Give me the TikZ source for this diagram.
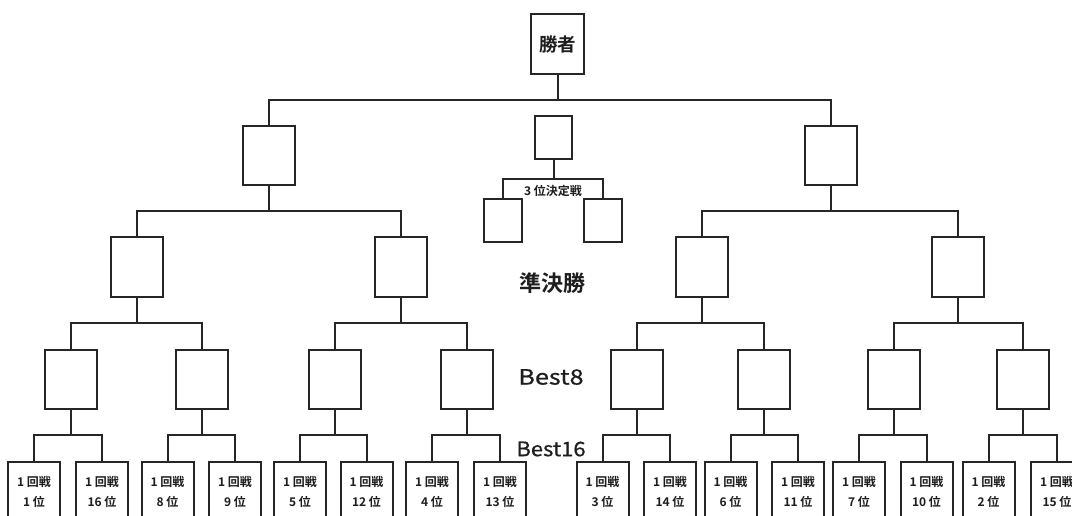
\documentclass[tikz,border=0pt]{standalone}
\usepackage{fontspec}
\setmainfont{Noto Sans CJK JP}[BoldFont={Noto Sans CJK JP Bold}]
\newfontfamily\bestfont{Noto Sans CJK JP}[FakeBold=0.6]
\definecolor{lc}{HTML}{262626}
\definecolor{tc}{HTML}{1E1E1E}
\newcommand\bracketpair[4]{\draw[conn] (#1.south) -- (#1.south |- #4) (#2.north) |- (#3.north |- #4) -- (#3.north);}
\begin{document}
\begin{tikzpicture}[x=1pt,y=-1pt,
  conn/.style={draw=lc,line width=2pt,line join=miter},
  box/.style={draw=lc,line width=2pt,fill=white,minimum width=52pt,minimum height=59pt,inner sep=0pt,text=tc},
  firstbox/.style={box,minimum height=60pt,align=center,font=\bfseries\fontsize{12}{20}\selectfont},
  small/.style={draw=lc,line width=2pt,fill=white,inner sep=0pt,minimum width=37pt,minimum height=43pt},
  lbl/.style={text=tc,inner sep=0pt}]
\fill[white] (0,0) rectangle (1072,516);
\useasboundingbox (0,0) rectangle (1072,516);
% bar levels
\coordinate (b0) at (0,100);
\coordinate (b1) at (0,211);
\coordinate (b2) at (0,323);
\coordinate (b3) at (0,435);
\coordinate (bT) at (0,179);
% winner
\node[box,minimum width=53pt,minimum height=60pt,font=\bfseries\fontsize{18.5}{20}\selectfont] (W) at (557.5,44) {勝者};
% level 1
\node[box] (A) at (269,155.5) {};
\node[box] (B) at (830.5,155.5) {};
% third place
\node[small] (T) at (553.5,138) {};
\node[small,minimum width=38pt] (Ta) at (503,220.5) {};
\node[small,minimum width=38pt] (Tb) at (602.5,220.5) {};
% level 2
\node[box,minimum height=60pt] (A1) at (137,267) {};
\node[box,minimum height=60pt] (A2) at (401,267) {};
\node[box,minimum height=60pt] (B1) at (702,267) {};
\node[box,minimum height=60pt] (B2) at (958,267) {};
% level 3
\node[box] (C1) at (70.5,379.5) {};
\node[box] (C2) at (202,379.5) {};
\node[box] (C3) at (334.5,379.5) {};
\node[box] (C4) at (466.5,379.5) {};
\node[box] (C5) at (637,379.5) {};
\node[box] (C6) at (764,379.5) {};
\node[box] (C7) at (894,379.5) {};
\node[box] (C8) at (1023,379.5) {};
% level 4 (first round)
\node[firstbox] (D1) at (34,492) {1 回戦\\1 位};
\node[firstbox] (D2) at (102,492) {1 回戦\\16 位};
\node[firstbox] (D3) at (167.5,492) {1 回戦\\8 位};
\node[firstbox] (D4) at (235,492) {1 回戦\\9 位};
\node[firstbox] (D5) at (300,492) {1 回戦\\5 位};
\node[firstbox] (D6) at (366.5,492) {1 回戦\\12 位};
\node[firstbox] (D7) at (432,492) {1 回戦\\4 位};
\node[firstbox] (D8) at (500,492) {1 回戦\\13 位};
\node[firstbox] (D9) at (602.5,492) {1 回戦\\3 位};
\node[firstbox] (D10) at (670,492) {1 回戦\\14 位};
\node[firstbox] (D11) at (730.5,492) {1 回戦\\6 位};
\node[firstbox] (D12) at (798,492) {1 回戦\\11 位};
\node[firstbox] (D13) at (859,492) {1 回戦\\7 位};
\node[firstbox] (D14) at (926.5,492) {1 回戦\\10 位};
\node[firstbox] (D15) at (988.5,492) {1 回戦\\2 位};
\node[firstbox] (D16) at (1057,492) {1 回戦\\15 位};
% connectors
\bracketpair{W}{A}{B}{b0}
\bracketpair{T}{Ta}{Tb}{bT}
\bracketpair{A}{A1}{A2}{b1}
\bracketpair{B}{B1}{B2}{b1}
\bracketpair{A1}{C1}{C2}{b2}
\bracketpair{A2}{C3}{C4}{b2}
\bracketpair{B1}{C5}{C6}{b2}
\bracketpair{B2}{C7}{C8}{b2}
\bracketpair{C1}{D1}{D2}{b3}
\bracketpair{C2}{D3}{D4}{b3}
\bracketpair{C3}{D5}{D6}{b3}
\bracketpair{C4}{D7}{D8}{b3}
\bracketpair{C5}{D9}{D10}{b3}
\bracketpair{C6}{D11}{D12}{b3}
\bracketpair{C7}{D13}{D14}{b3}
\bracketpair{C8}{D15}{D16}{b3}
% labels
\node[lbl,font=\bfseries\fontsize{12}{14}\selectfont] (t3) at (553,191) {3 位決定戦};
\node[lbl,font=\bfseries\fontsize{22}{24}\selectfont] (semi) at (552,283) {準決勝};
\node[lbl,font=\bestfont\fontsize{21}{24}\selectfont] (b8) at (551,377) {\scalebox{1.2}[1]{Best8}};
\node[lbl,font=\bestfont\fontsize{20}{24}\selectfont] (b16) at (551,449) {\scalebox{1.1}[1]{Best16}};
\end{tikzpicture}
\end{document}
